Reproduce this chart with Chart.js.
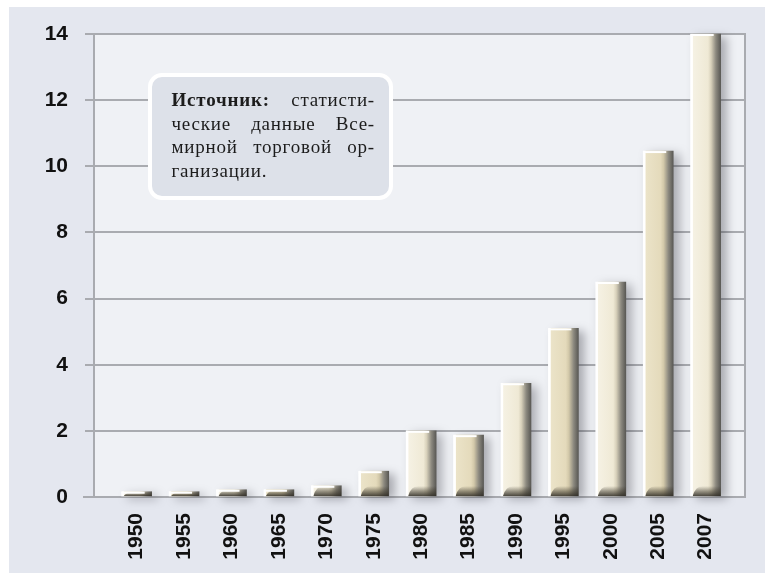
<!DOCTYPE html>
<html><head><meta charset="utf-8">
<script src="https://cdn.jsdelivr.net/npm/chart.js@4/dist/chart.umd.min.js"></script>
<style>html,body{margin:0;padding:0;background:#fff;}#wrap{width:765px;height:573px;}</style>
</head><body><div id="wrap"><canvas id="c" width="765" height="573"></canvas></div>
<script>
const years = ['1950','1955','1960','1965','1970','1975','1980','1985','1990','1995','2000','2005','2007'];
const values = [0.16,0.16,0.22,0.22,0.34,0.78,2.0,1.87,3.44,5.1,6.5,10.46,14.0];
const yTicks = [0,2,4,6,8,10,12,14];
const noteLines = [
  [{t:'Источник:', bold:true},{t:'статисти-'}],
  [{t:'ческие'},{t:'данные'},{t:'Все-'}],
  [{t:'мирной'},{t:'торговой'},{t:'ор-'}],
  [{t:'ганизации.'}]
];

const GRID = '#a9abb0';
const LABEL_FONT = "'Liberation Sans','Arial',sans-serif";

function barFill(ctx){
  const chart = ctx.chart;
  const even = ctx.dataIndex % 2 === 0;
  const b1 = even ? '#f5f1e3' : '#ebe3c8';
  const b2 = even ? '#efe9d5' : '#e4dabb';
  if (!chart.chartArea || ctx.type !== 'data') return b1;
  const px = chart.scales.x.getPixelForValue(ctx.dataIndex);
  const g = chart.ctx.createLinearGradient(px - 15, 0, px + 15, 0);
  g.addColorStop(0, '#ffffff');
  g.addColorStop(0.06, '#fffdf7');
  g.addColorStop(0.09, b1);
  g.addColorStop(0.58, b2);
  g.addColorStop(0.68, even ? '#d8d1bb' : '#d2c8a9');
  g.addColorStop(0.84, '#8c897f');
  g.addColorStop(1, '#5a5955');
  return g;
}

const framePlugin = {
  id: 'frame',
  beforeDraw(chart){
    const c = chart.ctx, a = chart.chartArea;
    c.save();
    c.fillStyle = '#ffffff';
    c.fillRect(0, 0, chart.width, chart.height);
    c.fillStyle = '#e4e7ef';
    c.fillRect(9, 7, chart.width - 9, chart.height - 7);
    c.fillStyle = '#eff1f5';
    c.fillRect(a.left, a.top, a.right - a.left, a.bottom - a.top);
    c.restore();
  },
  beforeDatasetsDraw(chart){
    const c = chart.ctx, a = chart.chartArea;
    c.save();
    c.strokeStyle = GRID; c.lineWidth = 2;
    c.beginPath(); c.moveTo(a.right, a.top - 1); c.lineTo(a.right, a.bottom + 1); c.stroke();
    c.beginPath(); c.moveTo(a.left - 11, a.bottom); c.lineTo(a.left, a.bottom); c.stroke();
    c.restore();
  },
  beforeDatasetDraw(chart){
    const c = chart.ctx;
    c.save();
    c.shadowColor = 'rgba(40,40,50,0.35)';
    c.shadowBlur = 10;
    c.shadowOffsetX = 6;
    c.shadowOffsetY = 3;
  },
  afterDatasetDraw(chart){
    chart.ctx.restore();
  },
  afterDatasetsDraw(chart){
    const c = chart.ctx;
    const meta = chart.getDatasetMeta(0);
    c.save();
    meta.data.forEach(el => {
      const w = el.width, l = el.x - w/2, t = el.y, b = el.base;
      const h = Math.min(10, b - t);
      const g = c.createLinearGradient(0, b - h, 0, b);
      g.addColorStop(0, 'rgba(55,50,38,0)');
      g.addColorStop(0.55, 'rgba(55,50,38,0.5)');
      g.addColorStop(1, 'rgba(45,42,35,0.85)');
      c.fillStyle = g;
      c.beginPath();
      c.moveTo(l + 2, b);
      c.quadraticCurveTo(l + 5, b - h, l + 12, b - h);
      c.lineTo(l + w, b - h);
      c.lineTo(l + w, b);
      c.closePath();
      c.fill();
      c.fillStyle = '#ffffff';
      c.fillRect(l, t, w - 7, 2);
      c.fillRect(l, t, 2, b - t);
    });
    c.restore();
    drawNote(c);
  }
};

function roundRect(c, x, y, w, h, r){
  c.beginPath();
  c.moveTo(x + r, y);
  c.arcTo(x + w, y, x + w, y + h, r);
  c.arcTo(x + w, y + h, x, y + h, r);
  c.arcTo(x, y + h, x, y, r);
  c.arcTo(x, y, x + w, y, r);
  c.closePath();
}

function drawNote(c){
  const bx = 150, by = 75, bw = 241, bh = 123;
  c.save();
  roundRect(c, bx, by, bw, bh, 12);
  c.fillStyle = '#dde1e9';
  c.fill();
  c.lineWidth = 4;
  c.strokeStyle = '#ffffff';
  c.stroke();
  const x0 = 171.5, width = 203.5, base0 = 106, lh = 23.6;
  c.fillStyle = '#1c1c1c';
  c.textBaseline = 'alphabetic';
  c.textAlign = 'left';
  try { c.letterSpacing = '0.8px'; } catch(e) {}
  const fontFor = s => (s.bold ? 'bold ' : '') + "19px 'Liberation Serif','Times New Roman',serif";
  noteLines.forEach((line, li) => {
    const widths = line.map(s => { c.font = fontFor(s); return c.measureText(s.t).width; });
    const total = widths.reduce((p, q) => p + q, 0);
    const last = li === noteLines.length - 1;
    const gap = (!last && line.length > 1) ? (width - total) / (line.length - 1) : 6;
    let x = x0;
    line.forEach((s, i) => {
      c.font = fontFor(s);
      c.fillText(s.t, x, base0 + li * lh);
      x += widths[i] + gap;
    });
  });
  c.restore();
}

new Chart(document.getElementById('c'), {
  type: 'bar',
  data: {
    datasets: [{
      data: years.map((_, i) => ({x: i, y: values[i]})),
      backgroundColor: barFill,
      borderWidth: 0,
      barThickness: 30,
      clip: false
    }]
  },
  options: {
    responsive: false,
    devicePixelRatio: 1,
    animation: false,
    layout: { padding: { top: 34, right: 20, left: 0, bottom: 0 } },
    plugins: { legend: { display: false }, tooltip: { enabled: false } },
    scales: {
      x: {
        type: 'linear',
        min: -0.9, max: 12.83,
        offset: false,
        afterBuildTicks: s => { s.ticks = years.map((_, i) => ({value: i})); },
        afterFit: s => { s.height = 76; },
        grid: { display: false, drawTicks: false, offset: false },
        border: { display: true, color: GRID, width: 2 },
        ticks: {
          autoSkip: false, maxRotation: 90, minRotation: 90, padding: 16,
          color: '#111111',
          font: { family: LABEL_FONT, size: 21, weight: 'bold' },
          callback: v => years[v]
        }
      },
      y: {
        min: 0, max: 14,
        afterBuildTicks: s => { s.ticks = yTicks.map(v => ({value: v})); },
        afterFit: s => { s.width = 94; },
        grid: { color: GRID, lineWidth: 2, tickLength: 9, drawTicks: true },
        border: { display: true, color: GRID, width: 2 },
        ticks: {
          padding: 17, color: '#111111',
          font: { family: LABEL_FONT, size: 21, weight: 'bold' }
        }
      }
    }
  },
  plugins: [framePlugin]
});
</script>
</body></html>
